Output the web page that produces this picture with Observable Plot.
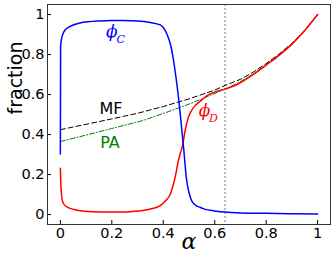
<!DOCTYPE html>
<html><head><meta charset="utf-8">
<script src="https://cdn.jsdelivr.net/npm/d3@7"></script>
<script src="https://cdn.jsdelivr.net/npm/@observablehq/plot@0.6"></script>
<style>body{margin:0;background:#fff} #chart{width:334px;height:261px}</style>
</head><body><div id="chart"></div>
<script>
// phi_C (blue)
const alphaC = [0, 0.001, 0.004, 0.011, 0.02, 0.037, 0.076, 0.154, 0.2, 0.25, 0.3, 0.35, 0.388, 0.4, 0.415, 0.43, 0.44, 0.45, 0.46, 0.47, 0.48, 0.49, 0.5, 0.51, 0.52, 0.544, 0.56, 0.6, 0.64, 0.7, 0.8, 0.9, 1.0];
const phiC   = [0.303, 0.838, 0.875, 0.906, 0.925, 0.94, 0.958, 0.968, 0.97, 0.97, 0.968, 0.96, 0.948, 0.935, 0.9, 0.84, 0.77, 0.68, 0.575, 0.45, 0.32, 0.18, 0.11, 0.07, 0.052, 0.035, 0.027, 0.018, 0.012, 0.008, 0.006, 0.004, 0.003];
// phi_D (red)
const alphaD = [0, 0.003, 0.01, 0.024, 0.05, 0.076, 0.12, 0.2, 0.26, 0.3, 0.35, 0.388, 0.41, 0.427, 0.437, 0.446, 0.459, 0.467, 0.475, 0.485, 0.498, 0.51, 0.524, 0.55, 0.57, 0.6, 0.64, 0.687, 0.75, 0.8, 0.85, 0.9, 0.95, 1.0];
const phiD   = [0.231, 0.12, 0.06, 0.039, 0.026, 0.019, 0.014, 0.012, 0.013, 0.017, 0.027, 0.044, 0.07, 0.10, 0.14, 0.186, 0.27, 0.31, 0.345, 0.42, 0.487, 0.52, 0.545, 0.573, 0.594, 0.612, 0.627, 0.65, 0.7, 0.747, 0.796, 0.852, 0.92, 1.0];
// MF (black dashed)
const alphaMF = [0, 0.1, 0.2, 0.3, 0.4, 0.5, 0.6, 0.64, 0.7, 0.75, 0.8, 0.85, 0.9, 0.95, 1.0];
const mf      = [0.424, 0.451, 0.478, 0.506, 0.54, 0.578, 0.622, 0.645, 0.676, 0.712, 0.755, 0.802, 0.856, 0.922, 1.0];
// PA (green dash-dot)
const alphaPA = [0, 0.1, 0.2, 0.316, 0.4, 0.45, 0.5, 0.55, 0.6, 0.64, 0.687, 0.75, 0.8, 0.85, 0.9, 0.95, 1.0];
const pa      = [0.365, 0.397, 0.43, 0.468, 0.505, 0.528, 0.552, 0.578, 0.605, 0.628, 0.655, 0.703, 0.75, 0.798, 0.853, 0.921, 1.0];
// critical alpha (dotted line)
const criticalAlpha = [0.64];
// ticks
const xTicks = [0, 0.2, 0.4, 0.6, 0.8, 1];
const yTicks = [0, 0.2, 0.4, 0.6, 0.8, 1];
// curve labels
const labels = [
  {name: "MF", x: 0.197, y: 0.529, color: "black"},
  {name: "PA", x: 0.193, y: 0.356, color: "green"}
];
const phiLabels = [
  {sub: "C", x: 0.2, y: 0.913, color: "blue"},
  {sub: "D", x: 0.56, y: 0.52, color: "red"}
];

const rows = (xs, ys) => xs.map((x, i) => ({x, y: ys[i]}));
const fmt = d => String(d);

const chart = Plot.plot({
  width: 334, height: 261,
  marginLeft: 47, marginRight: 4, marginTop: 4, marginBottom: 37,
  style: {fontFamily: "DejaVu Sans", fontSize: "14.5px", background: "white", color: "black"},
  x: {domain: [-0.05, 1.05]},
  y: {domain: [-0.05, 1.05]},
  marks: [
    Plot.ruleX(criticalAlpha, {stroke: "#555", strokeDasharray: "2,2", strokeWidth: 0.8}),
    Plot.line(rows(alphaMF, mf), {x: "x", y: "y", stroke: "black", strokeWidth: 1, strokeDasharray: "5,3"}),
    Plot.line(rows(alphaPA, pa), {x: "x", y: "y", stroke: "green", strokeWidth: 1, strokeDasharray: "5,2,1,2"}),
    Plot.line(rows(alphaD, phiD), {x: "x", y: "y", stroke: "red", strokeWidth: 1.5, curve: "monotone-x"}),
    Plot.line(rows(alphaC, phiC), {x: "x", y: "y", stroke: "blue", strokeWidth: 1.5, curve: "monotone-x"}),
    Plot.axisX({ticks: xTicks, tickSize: -4, tickPadding: 7, tickFormat: fmt, label: null}),
    Plot.axisY({ticks: yTicks, tickSize: -4, tickPadding: 7, tickFormat: fmt, label: null}),
    Plot.frame({stroke: "#333"}),
    Plot.text(labels, {x: "x", y: "y", text: "name", fill: "color", fontSize: 16, fontFamily: "DejaVu Sans"}),
    Plot.text(phiLabels, {x: "x", y: "y", text: () => "\u03D5", fill: "color", fontSize: 17, fontStyle: "italic", fontFamily: "DejaVu Serif"}),
    Plot.text(phiLabels, {x: "x", y: "y", text: "sub", fill: "color", fontSize: 11, fontStyle: "italic", fontFamily: "DejaVu Serif", dx: 9, dy: 8}),
    Plot.text(["α"], {frameAnchor: "bottom", dy: 24, fontSize: 22, fontStyle: "italic", fontFamily: "DejaVu Serif"}),
    Plot.text(["fraction"], {frameAnchor: "left", dx: -32, rotate: -90, fontSize: 19, fontFamily: "DejaVu Sans"})
  ]
});
document.getElementById("chart").appendChild(chart);
</script>
</body></html>
